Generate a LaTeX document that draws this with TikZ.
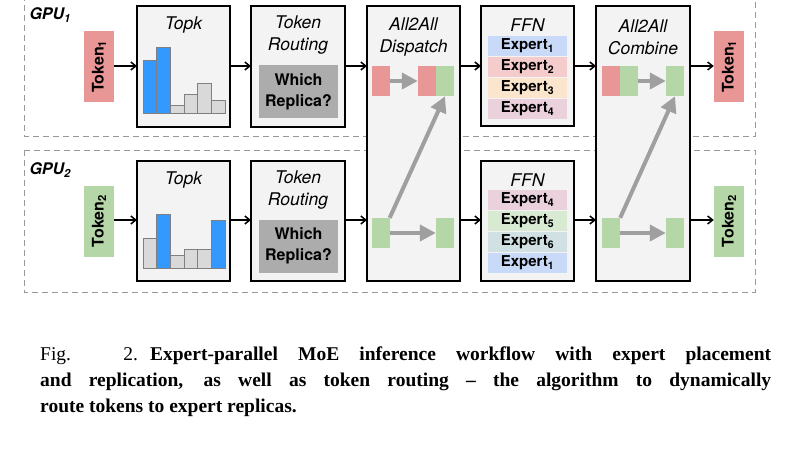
\documentclass[tikz,border=0pt]{standalone}
\usepackage{fontspec}
\setmainfont{TeX Gyre Heros}
\newfontfamily\capfont{Liberation Serif}
\usetikzlibrary{arrows.meta}
\definecolor{tokred}{HTML}{E99696}
\definecolor{tokgreen}{HTML}{B5D7A8}
\definecolor{panel}{HTML}{F3F3F3}
\definecolor{exb}{HTML}{C9DAF8}
\definecolor{exr}{HTML}{F4CCCC}
\definecolor{exo}{HTML}{FCE5CD}
\definecolor{exp}{HTML}{EAD1DC}
\definecolor{exg}{HTML}{D9EAD3}
\definecolor{ext}{HTML}{D0E0E3}
\definecolor{barblue}{HTML}{3399FF}
\tikzset{
 gpubox/.style={draw=gray!80, line width=1pt, dash pattern=on 6pt off 4pt},
 panelbox/.style={draw=black, fill=panel, line width=1.6pt},
 tokbox/.style={draw=none, inner sep=0pt, minimum width=71pt, minimum height=30pt, font=\bfseries\fontsize{16}{16}\selectfont, rotate=90},
 cell/.style={draw=none, inner sep=0pt, minimum width=18pt, minimum height=30pt},
 flow/.style={-{Straight Barb[length=5pt,width=8pt]}, line width=1.5pt},
 garrow/.style={-{Triangle[length=16pt,width=16pt]}, line width=4pt, draw=gray!75},
 ttl/.style={font=\itshape\fontsize{17.5}{22}\selectfont, align=center},
 expert/.style={inner sep=0pt, minimum width=79pt, minimum height=20pt, font=\bfseries\fontsize{15}{15}\selectfont},
 replica/.style={fill=gray!65, inner sep=0pt, minimum width=79pt, minimum height=53pt, font=\bfseries\fontsize{16}{21}\selectfont, align=center},
 gbar/.style={draw=gray, fill=gray!30, line width=0.8pt},
 bbar/.style={draw=gray, fill=barblue, line width=0.8pt},
}
\begin{document}
\begin{tikzpicture}[x=1pt,y=-1pt]
\useasboundingbox (0,0) rectangle (796,453);
\draw[gpubox] (24,-5) -- (24,136) -- (755,136) -- (755,-5);
\draw[gpubox] (24,150) rectangle (755,292);
\node[font=\bfseries\itshape\fontsize{16}{16}\selectfont, anchor=west] (g1) at (26,15) {GPU\textsubscript{1}};
\node[font=\bfseries\itshape\fontsize{16}{16}\selectfont, anchor=west] (g2) at (26,170) {GPU\textsubscript{2}};
\draw[panelbox] (137,6) rectangle (230,127);
\draw[panelbox] (137,161) rectangle (230,281);
\draw[panelbox] (251,6) rectangle (345,127);
\draw[panelbox] (251,161) rectangle (345,281);
\draw[panelbox] (481,6) rectangle (574,126);
\draw[panelbox] (481,161) rectangle (574,281);
\draw[panelbox] (367,6) rectangle (460,281);
\draw[panelbox] (596,6) rectangle (690,281);
\node[ttl] (t1) at (183.5,25) {Topk};
\node[ttl] (t2) at (183.5,180) {Topk};
\node[ttl] (r1) at (298,35) {Token\\Routing};
\node[ttl] (r2) at (298,190) {Token\\Routing};
\node[ttl] (d) at (413.5,37) {All2All\\Dispatch};
\node[ttl] (c) at (643,37) {All2All\\Combine};
\node[ttl] (f1) at (527.5,25) {FFN};
\node[ttl] (f2) at (527.5,180) {FFN};
\node[replica] (w1) at (298.5,91.5) {Which\\Replica?};
\node[replica] (w2) at (298.5,246) {Which\\Replica?};
\draw[bbar] (143,60) rectangle (156.7,113);
\draw[bbar] (156.7,47) rectangle (170.4,113);
\draw[gbar] (170.4,105) rectangle (184.1,113);
\draw[gbar] (184.1,94) rectangle (197.8,113);
\draw[gbar] (197.8,83) rectangle (211.5,113);
\draw[gbar] (211.5,100) rectangle (225.2,113);
\draw[gbar] (143,238) rectangle (156.7,268);
\draw[bbar] (156.7,214) rectangle (170.4,268);
\draw[gbar] (170.4,255) rectangle (184.1,268);
\draw[gbar] (184.1,249) rectangle (197.8,268);
\draw[gbar] (197.8,249) rectangle (211.5,268);
\draw[bbar] (211.5,220) rectangle (225.2,268);
\node[expert, fill=exb] (e11) at (527.5,46) {Expert\textsubscript{1}};
\node[expert, fill=exr] (e12) at (527.5,67) {Expert\textsubscript{2}};
\node[expert, fill=exo] (e13) at (527.5,88) {Expert\textsubscript{3}};
\node[expert, fill=exp] (e14) at (527.5,109) {Expert\textsubscript{4}};
\node[expert, fill=exp] (e24) at (527.5,200) {Expert\textsubscript{4}};
\node[expert, fill=exg] (e25) at (527.5,221) {Expert\textsubscript{5}};
\node[expert, fill=ext] (e26) at (527.5,242) {Expert\textsubscript{6}};
\node[expert, fill=exb] (e21) at (527.5,263) {Expert\textsubscript{1}};
\node[tokbox, fill=tokred] (tin1) at (99,66.5) {Token\textsubscript{1}};
\node[tokbox, fill=tokgreen] (tin2) at (99,221) {Token\textsubscript{2}};
\node[tokbox, fill=tokred] (tout1) at (729,66.5) {Token\textsubscript{1}};
\node[tokbox, fill=tokgreen] (tout2) at (729,221) {Token\textsubscript{2}};
\node[cell, fill=tokred] (da) at (380.5,81) {};
\node[cell, fill=tokred] (db) at (427,81) {};
\node[cell, fill=tokgreen] (dc) at (445,81) {};
\node[cell, fill=tokgreen] (dd) at (380.5,233) {};
\node[cell, fill=tokgreen] (de) at (445,233) {};
\node[cell, fill=tokred] (ca) at (611,81) {};
\node[cell, fill=tokgreen] (cb) at (629,81) {};
\node[cell, fill=tokgreen] (cc) at (675,81) {};
\node[cell, fill=tokgreen] (cd) at (611,233) {};
\node[cell, fill=tokgreen] (ce) at (675,233) {};
\draw[garrow] (da.east) -- (db.west);
\draw[garrow] (dd.east) -- (de.west);
\draw[garrow] (dd.north east) -- (dc.south);
\draw[garrow] (cb.east) -- (cc.west);
\draw[garrow] (cd.east) -- (ce.west);
\draw[garrow] (cd.north east) -- (cc.south);
\coordinate (tk1w) at (137,66); \coordinate (tk1e) at (230,66);
\coordinate (tr1w) at (251,66); \coordinate (tr1e) at (345,66);
\coordinate (dw1) at (367,66); \coordinate (de1) at (460,66);
\coordinate (fw1) at (481,66); \coordinate (fe1) at (574,66);
\coordinate (cw1) at (596,66); \coordinate (ce1) at (690,66);
\coordinate (tk2w) at (137,220); \coordinate (tk2e) at (230,220);
\coordinate (tr2w) at (251,220); \coordinate (tr2e) at (345,220);
\coordinate (dw2) at (367,220); \coordinate (de2) at (460,220);
\coordinate (fw2) at (481,220); \coordinate (fe2) at (574,220);
\coordinate (cw2) at (596,220); \coordinate (ce2) at (690,220);
\draw[flow] (tin1.south |- tk1w) -- (tk1w);
\draw[flow] (tk1e) -- (tr1w);
\draw[flow] (tr1e) -- (dw1);
\draw[flow] (de1) -- (fw1);
\draw[flow] (fe1) -- (cw1);
\draw[flow] (ce1) -- (tout1.north |- ce1);
\draw[flow] (tin2.south |- tk2w) -- (tk2w);
\draw[flow] (tk2e) -- (tr2w);
\draw[flow] (tr2e) -- (dw2);
\draw[flow] (de2) -- (fw2);
\draw[flow] (fe2) -- (cw2);
\draw[flow] (ce2) -- (tout2.north |- ce2);
\node[anchor=north west, inner sep=0pt, font=\capfont\fontsize{19.5}{26}\selectfont, align=left] (cap) at (40,347) {%
\hbox to 731pt{Fig. 2.\hskip 12pt\textbf{Expert-parallel MoE inference workflow with expert placement}}\\
\hbox to 731pt{\textbf{and replication, as well as token routing – the algorithm to dynamically}}\\
\textbf{route tokens to expert replicas.}};
\end{tikzpicture}
\end{document}
